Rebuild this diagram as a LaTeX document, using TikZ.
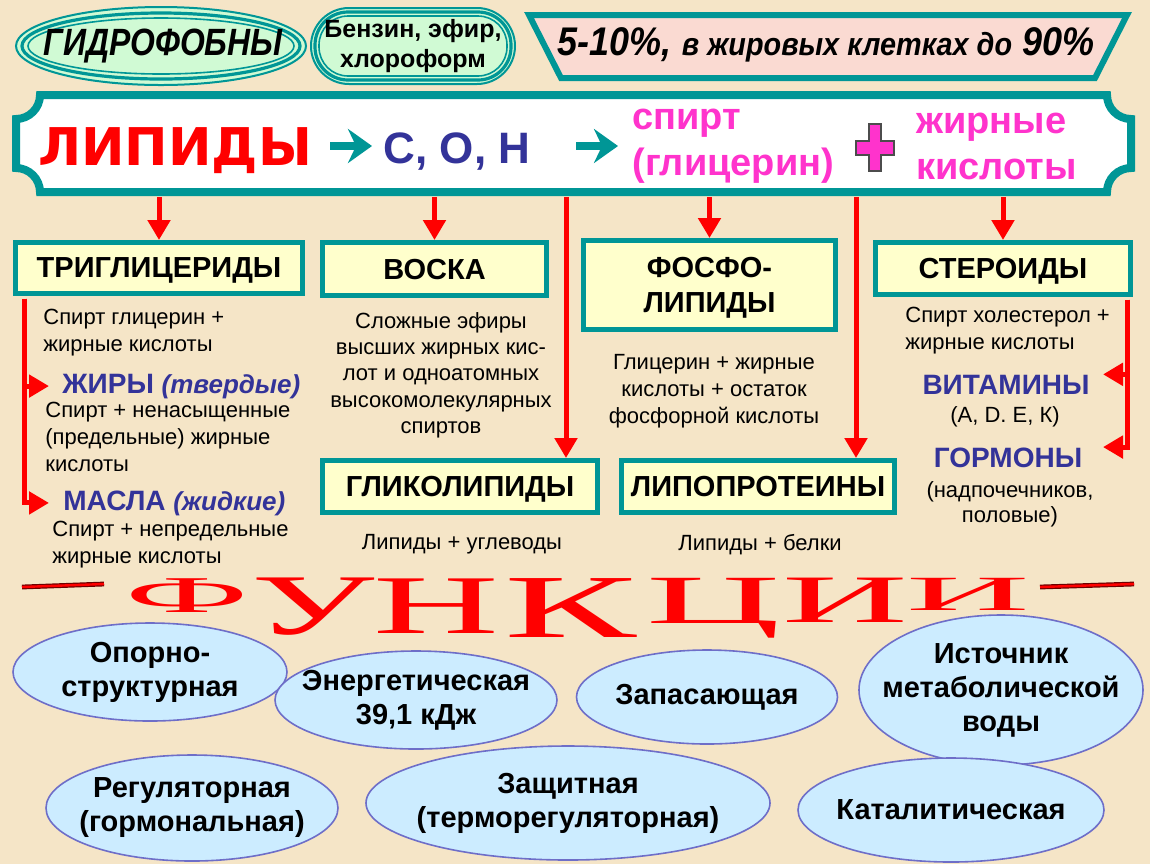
\documentclass[tikz,border=0pt]{standalone}
\usepackage{fontspec}
\usepackage{graphicx}
\setmainfont{Liberation Sans}
\newfontfamily\verafont{DejaVu Sans}
\newfontfamily\waserif{Liberation Serif}
\usetikzlibrary{positioning,calc,arrows,arrows.meta,shapes.geometric}
\definecolor{bgc}{RGB}{245,229,199}
\definecolor{tealc}{RGB}{0,150,150}
\definecolor{boxfill}{RGB}{255,255,204}
\definecolor{mintfill}{RGB}{208,250,212}
\definecolor{pinkfill}{RGB}{250,218,210}
\definecolor{navyc}{RGB}{51,51,153}
\definecolor{magc}{RGB}{255,51,204}
\definecolor{ellfill}{RGB}{204,236,255}
\definecolor{elldraw}{RGB}{110,110,200}
\definecolor{darkred}{RGB}{110,0,0}
\tikzset{font=\fontsize{11}{13.5}\selectfont}

\begin{document}
\begin{tikzpicture}[x=0.5pt,y=-0.5pt,
	headbox/.style={draw=tealc, line width=2.5pt, fill=boxfill, align=center, inner sep=0pt, text depth=0pt, font=\fontsize{14.5}{17.5}\selectfont\bfseries},
	bodytxt/.style={inner sep=0pt, font=\fontsize{11}{13.5}\selectfont},
	bluehead/.style={inner sep=0pt, text=navyc, font=\fontsize{14}{17}\selectfont\bfseries},
	redarrow/.style={red, line width=2.5pt, -{Triangle[width=11pt,length=10pt]}},
	tealarrow/.style={tealc, line width=4pt, -{Stealth[width=17pt,length=12pt,inset=4pt]}},
	funcell/.style={ellipse, draw=elldraw, line width=0.8pt, fill=ellfill, inner sep=0pt},
	functxt/.style={align=center, inner sep=0pt, font=\fontsize{14.5}{17}\selectfont\bfseries},
	funcletter/.style={anchor=north, inner sep=0pt, text=red, font=\waserif\fontsize{30}{30}\selectfont}]
	\fill[bgc] (0,0) rectangle (1150,864);
	\useasboundingbox (0,0) rectangle (1150,864);

	% top row
	\node[ellipse, draw=tealc, line width=1pt, fill=mintfill, minimum width=145pt, minimum height=39pt, inner sep=0pt] (hydro) at (161,46) {};
	\draw[tealc, line width=1.6pt] (hydro.center) ellipse [x radius=139, y radius=33];
	\draw[tealc, line width=0.8pt] (hydro.center) ellipse [x radius=133, y radius=28];
	\node[inner sep=0pt, font=\fontsize{19}{22}\selectfont\bfseries\itshape] (hydrotx) at (163,46) {\scalebox{0.84}[1]{ГИДРОФОБНЫ}};

	\node[draw=tealc, line width=1pt, fill=mintfill, rounded corners=19pt, minimum width=102pt, minimum height=38pt, inner sep=0pt] (solv) at (413,46) {};
	\draw[tealc, line width=1.6pt, rounded corners=16.5pt] ($(solv.north west)+(5,5)$) rectangle ($(solv.south east)+(-5,-5)$);
	\draw[tealc, line width=0.8pt, rounded corners=14.5pt] ($(solv.north west)+(9,9)$) rectangle ($(solv.south east)+(-9,-9)$);
	\node[inner sep=0pt, align=center, font=\fontsize{12.5}{15}\selectfont\bfseries] (solvtx) at (solv) {Бензин, эфир,\\хлороформ};

	\draw[tealc, line width=3pt, fill=pinkfill] (529,15) -- (1127,15) -- (1095,78) -- (561,78) -- cycle;
	\node[inner sep=0pt, font=\fontsize{20}{24}\selectfont\bfseries\itshape] (pct) at (826,45) {\scalebox{0.9}[1]{5-10\%, {\fontsize{16}{20}\selectfont в жировых клетках до} 90\%}};

	% banner
	\draw[tealc, line width=4pt, fill=white] (40,95) -- (1107,95) .. controls (1107,108.2) and (1117.8,119) .. (1131,119) -- (1131,168) .. controls (1117.8,168) and (1107,178.8) .. (1107,192) -- (40,192) .. controls (40,178.8) and (29.2,168) .. (16,168) -- (16,119) .. controls (29.2,119) and (40,108.2) .. (40,95) -- cycle;
	\node[anchor=base, inner sep=0pt, text=red, font=\verafont\fontsize{26}{30}\selectfont\bfseries] (lipid) at (175,165) {ЛИПИДЫ};
	\node[anchor=base, inner sep=0pt, text=navyc, font=\fontsize{22}{26}\selectfont\bfseries] (chon) at (457,163) {С, О, Н};
	\node[anchor=west, inner sep=0pt, align=left, text=magc, font=\fontsize{19}{23}\selectfont\bfseries] (alc) at (632,146) {спирт\\(глицерин)};
	\node[anchor=west, inner sep=0pt, align=left, text=magc, font=\fontsize{19}{23}\selectfont\bfseries] (fa) at (916,146) {жирные\\кислоты};
	\draw[black!70, line width=0.6pt, fill=magc] (869,124) -- (881,124) -- (881,141) -- (894,141) -- (894,155) -- (881,155) -- (881,171) -- (869,171) -- (869,155) -- (856,155) -- (856,141) -- (869,141) -- cycle;
	\coordinate (ta1) at (330,146);
	\coordinate (ta2) at (372,146);
	\coordinate (ta3) at (576,146);
	\coordinate (ta4) at (618,146);
	\draw[tealarrow] (ta1) -- (ta2);
	\draw[tealarrow] (ta3) -- (ta4);

	% classes
	\node[headbox, minimum width=143.5pt, minimum height=25.5pt] (trig) at (159,268) {ТРИГЛИЦЕРИДЫ};
	\node[headbox, minimum width=112pt, minimum height=26.5pt] (voska) at (434.5,269) {ВОСКА};
	\node[headbox, minimum width=126pt, minimum height=44.5pt] (fosfo) at (709.5,285) {ФОСФО-\\ЛИПИДЫ};
	\node[headbox, minimum width=127.5pt, minimum height=26pt] (steroid) at (1003,268.5) {СТЕРОИДЫ};
	\node[headbox, minimum width=137.5pt, minimum height=26pt] (glyko) at (460,486.5) {ГЛИКОЛИПИДЫ};
	\node[headbox, minimum width=136.5pt, minimum height=26pt] (lipopr) at (758,486.5) {ЛИПОПРОТЕИНЫ};

	\coordinate (bannerbot) at (0,197);
	\coordinate (g1) at (566,197);
	\coordinate (g2) at (856,197);
	\draw[redarrow] (trig.north |- bannerbot) -- (trig.north);
	\draw[redarrow] (voska.north |- bannerbot) -- (voska.north);
	\draw[redarrow] (fosfo.north |- bannerbot) -- (fosfo.north);
	\draw[redarrow] (steroid.north |- bannerbot) -- (steroid.north);
	\draw[redarrow] (g1) -- (g1 |- glyko.north);
	\draw[redarrow] (g2) -- (g2 |- lipopr.north);

	\node[bodytxt, anchor=north west, align=left] (trigtx) at (43,309) {Спирт глицерин +\\жирные кислоты};
	\node[bluehead, anchor=base west] (zhiry) at (62,393) {ЖИРЫ {\fontsize{13}{16}\selectfont\itshape (твердые)}};
	\node[bodytxt, anchor=north west, align=left] (zhirytx) at (45,402) {Спирт + ненасыщенные\\(предельные) жирные\\кислоты};
	\node[bluehead, anchor=base west] (masla) at (63,510) {МАСЛА {\fontsize{13}{16}\selectfont\itshape (жидкие)}};
	\node[bodytxt, anchor=north west, align=left] (maslatx) at (52,521) {Спирт + непредельные\\жирные кислоты};
	\node[bodytxt, anchor=north, align=center, font=\fontsize{11}{13.15}\selectfont] (voskatx) at (441,312) {Сложные эфиры\\высших жирных кис-\\лот и одноатомных\\высокомолекулярных\\спиртов};
	\node[bodytxt, anchor=north, align=center] (fosfotx) at (714,354) {Глицерин + жирные\\кислоты + остаток\\фосфорной кислоты};
	\node[bodytxt, anchor=north] (glykotx) at (462,534) {Липиды + углеводы};
	\node[bodytxt, anchor=north] (lipoprtx) at (760,534) {Липиды + белки};
	\node[bodytxt, anchor=north west, align=left] (sttx) at (905,307) {Спирт холестерол +\\жирные кислоты};
	\node[bluehead, anchor=base] (vitam) at (1006,394) {ВИТАМИНЫ};
	\node[bodytxt, anchor=north] (vitamtx) at (1005,406) {(A, D. E, К)};
	\node[bluehead, anchor=base] (gorm) at (1008,467) {ГОРМОНЫ};
	\node[bodytxt, anchor=north, align=center, font=\fontsize{11}{12.8}\selectfont] (gormtx) at (1010,481) {(надпочечников,\\половые)};

	\coordinate (lbr) at (24,0);
	\coordinate (ltip) at (49,0);
	\coordinate (rbr) at (1127,0);
	\coordinate (rtip) at (1103,0);
	\draw[redarrow, shorten <=1.25pt] (trig.south -| lbr) |- (zhiry.west -| ltip);
	\draw[redarrow, shorten <=1.25pt] (trig.south -| lbr) |- (masla.west -| ltip);
	\draw[redarrow, shorten <=1.25pt] (steroid.south -| rbr) |- (vitam.north -| rtip);
	\draw[redarrow, shorten <=1.25pt] (steroid.south -| rbr) |- (gorm.north -| rtip);

	% functions
	\draw[darkred, line width=2.4pt] (22,587) -- (104,584);
	\draw[red, line width=1.2pt] (22,587) -- (104,584);
	\draw[darkred, line width=2.4pt] (1040,587) -- (1134,584);
	\draw[red, line width=1.2pt] (1040,587) -- (1134,584);
	\foreach \ch/\cx/\sx/\sy [count=\i] in {Ф/187/2.6/0.86, У/313/2.9/1.44, Н/436/2.9/1.39, К/571/3.3/1.5, Ц/714/3.1/1.15, И/845/2.9/1.13, И/968/2.85/0.82}{
		\node[funcletter] (fl\i) at (\cx,578) {\scalebox{\sx}[\sy]{\ch}};
	}

	\node[funcell, minimum width=137pt, minimum height=49pt] (opor) at (150,672) {};
	\node[functxt] (oportx) at (opor) {Опорно-\\структурная};
	\node[funcell, minimum width=141pt, minimum height=49pt] (energ) at (416,700) {};
	\node[functxt] (energtx) at (energ) {Энергетическая\\39,1 кДж};
	\node[funcell, minimum width=130.5pt, minimum height=47pt] (zapas) at (707,697) {};
	\node[functxt] (zapastx) at (zapas) {Запасающая};
	\node[funcell, minimum width=142pt, minimum height=75pt] (istoch) at (1001,690) {};
	\node[functxt] (istochtx) at (istoch) {Источник\\метаболической\\воды};
	\node[funcell, minimum width=146pt, minimum height=53pt] (regul) at (192,808) {};
	\node[functxt] (regultx) at (regul) {Регуляторная\\(гормональная)};
	\node[funcell, minimum width=202pt, minimum height=57pt] (zasch) at (568,803) {};
	\node[functxt] (zaschtx) at (zasch) {Защитная\\(терморегуляторная)};
	\node[funcell, minimum width=153pt, minimum height=52pt] (katal) at (951,810) {};
	\node[functxt] (kataltx) at (katal) {Каталитическая};
\end{tikzpicture}
\end{document}
